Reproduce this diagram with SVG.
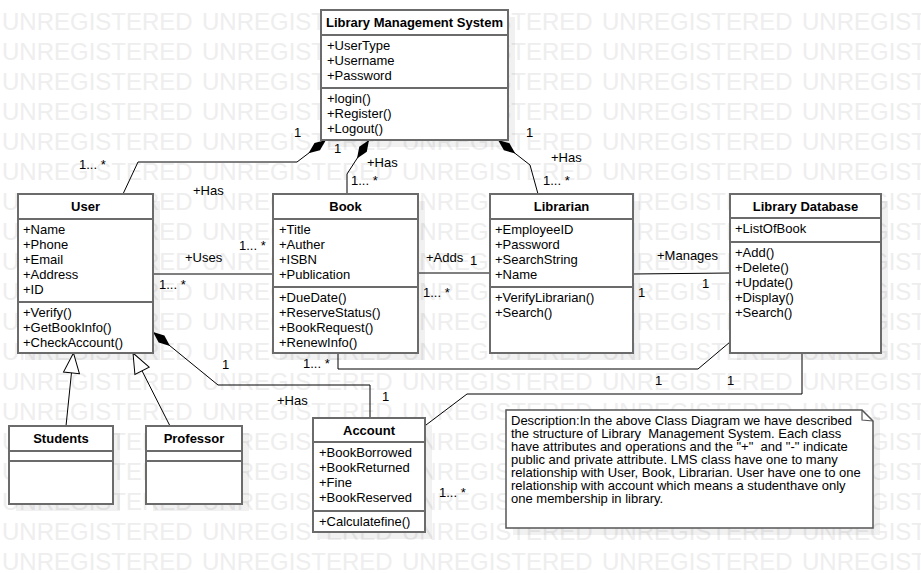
<svg xmlns="http://www.w3.org/2000/svg" width="921" height="573" viewBox="0 0 921 573">
<defs>
<style>
.wm{font-family:"Liberation Sans",Arial,sans-serif;font-size:24px;fill:#eeeeee;word-spacing:2.65px}
.box{fill:#fff;stroke:#6b6b6b;stroke-width:2}
.sep{stroke:#6b6b6b;stroke-width:2}
.sh{fill:#000;fill-opacity:.055}
.t{font-family:"Liberation Sans",Arial,sans-serif;font-size:13px;fill:#000}
.b{font-weight:bold;text-anchor:middle}
.ln{fill:none;stroke:#000;stroke-width:1}
</style>
<marker id="dia" markerUnits="userSpaceOnUse" viewBox="-24 -6 26 12" refX="0" refY="0" markerWidth="26" markerHeight="12" orient="auto"><path d="M0,0 L-11,-4.5 L-22,0 L-11,4.5 Z" fill="#000"/></marker>
<marker id="tri" markerUnits="userSpaceOnUse" viewBox="-22 -10 24 20" refX="0" refY="0" markerWidth="24" markerHeight="20" orient="auto"><path d="M0,0 L-20,-8 L-20,8 Z" fill="#fff" stroke="#000" stroke-width="1"/></marker>
</defs>
<rect width="921" height="573" fill="#fff"/>
<g id="watermark" class="wm">
<text x="2" y="30">UNREGISTERED UNREGISTERED UNREGISTERED UNREGISTERED UNREGIST</text>
<text x="2" y="60">UNREGISTERED UNREGISTERED UNREGISTERED UNREGISTERED UNREGIST</text>
<text x="2" y="90">UNREGISTERED UNREGISTERED UNREGISTERED UNREGISTERED UNREGIST</text>
<text x="2" y="120">UNREGISTERED UNREGISTERED UNREGISTERED UNREGISTERED UNREGIST</text>
<text x="2" y="150">UNREGISTERED UNREGISTERED UNREGISTERED UNREGISTERED UNREGIST</text>
<text x="2" y="180">UNREGISTERED UNREGISTERED UNREGISTERED UNREGISTERED UNREGIST</text>
<text x="2" y="210">UNREGISTERED UNREGISTERED UNREGISTERED UNREGISTERED UNREGIST</text>
<text x="2" y="240">UNREGISTERED UNREGISTERED UNREGISTERED UNREGISTERED UNREGIST</text>
<text x="2" y="270">UNREGISTERED UNREGISTERED UNREGISTERED UNREGISTERED UNREGIST</text>
<text x="2" y="300">UNREGISTERED UNREGISTERED UNREGISTERED UNREGISTERED UNREGIST</text>
<text x="2" y="330">UNREGISTERED UNREGISTERED UNREGISTERED UNREGISTERED UNREGIST</text>
<text x="2" y="360">UNREGISTERED UNREGISTERED UNREGISTERED UNREGISTERED UNREGIST</text>
<text x="2" y="390">UNREGISTERED UNREGISTERED UNREGISTERED UNREGISTERED UNREGIST</text>
<text x="2" y="420">UNREGISTERED UNREGISTERED UNREGISTERED UNREGISTERED UNREGIST</text>
<text x="2" y="450">UNREGISTERED UNREGISTERED UNREGISTERED UNREGISTERED UNREGIST</text>
<text x="2" y="480">UNREGISTERED UNREGISTERED UNREGISTERED UNREGISTERED UNREGIST</text>
<text x="2" y="510">UNREGISTERED UNREGISTERED UNREGISTERED UNREGISTERED UNREGIST</text>
<text x="2" y="540">UNREGISTERED UNREGISTERED UNREGISTERED UNREGISTERED UNREGIST</text>
<text x="2" y="570">UNREGISTERED UNREGISTERED UNREGISTERED UNREGISTERED UNREGIST</text>
</g>
<g id="shadows" class="sh">
<rect x="328" y="17" width="187" height="130"/>
<rect x="25" y="201" width="135" height="159"/>
<rect x="280" y="201" width="145" height="159"/>
<rect x="497" y="201" width="143" height="159"/>
<rect x="737" y="201" width="151" height="159"/>
<rect x="16" y="433" width="104" height="78"/>
<rect x="153" y="433" width="96" height="78"/>
<rect x="320" y="425" width="112" height="114"/>
<rect x="513" y="417" width="367" height="118"/>
</g>
<g id="connectors">
<polyline class="ln" points="123,194 138,162 297,162 326,140" marker-end="url(#dia)"/>
<polyline class="ln" points="347,194 347,174 369,140" marker-end="url(#dia)"/>
<polyline class="ln" points="538,194 530,165 498,140" marker-end="url(#dia)"/>
<line class="ln" x1="153" y1="274" x2="273" y2="274"/>
<line class="ln" x1="418" y1="273" x2="490" y2="273"/>
<line class="ln" x1="633" y1="274" x2="730" y2="273"/>
<polyline class="ln" points="338,353 338,369 698,369 730,342"/>
<polyline class="ln" points="426,425 467,394 802,394 802,353"/>
<polyline class="ln" points="370,418 370,385 218,385 153,332" marker-end="url(#dia)"/>
<line class="ln" x1="66" y1="426" x2="73.5" y2="353" marker-end="url(#tri)"/>
<line class="ln" x1="170" y1="426" x2="133" y2="353" marker-end="url(#tri)"/>
<g class="t">
<text x="294" y="137">1</text>
<text x="79" y="169">1... *</text>
<text x="193" y="195">+Has</text>
<text x="334" y="153">1</text>
<text x="367" y="167">+Has</text>
<text x="351" y="185">1... *</text>
<text x="526" y="137">1</text>
<text x="551" y="162">+Has</text>
<text x="543" y="185">1... *</text>
<text x="185" y="262">+Uses</text>
<text x="239" y="250">1... *</text>
<text x="159" y="289">1... *</text>
<text x="426" y="262">+Adds</text>
<text x="470" y="265">1</text>
<text x="423" y="297">1... *</text>
<text x="657" y="260">+Manages</text>
<text x="638" y="297">1</text>
<text x="702" y="288">1</text>
<text x="303" y="368">1... *</text>
<text x="655" y="385">1</text>
<text x="727" y="385">1</text>
<text x="222" y="369">1</text>
<text x="277" y="405">+Has</text>
<text x="382" y="401">1</text>
<text x="439" y="497">1... *</text>
</g>
</g>
<g id="lms">
<rect class="box" x="321" y="10" width="187" height="130"/>
<line class="sep" x1="321" y1="35" x2="508" y2="35"/>
<line class="sep" x1="321" y1="88" x2="508" y2="88"/>
<text class="t b" x="414.5" y="27">Library Management System</text>
<text class="t" x="327" y="50">+UserType</text>
<text class="t" x="327" y="65">+Username</text>
<text class="t" x="327" y="80">+Password</text>
<text class="t" x="327" y="103">+login()</text>
<text class="t" x="327" y="118">+Register()</text>
<text class="t" x="327" y="133">+Logout()</text>
</g>
<g id="user">
<rect class="box" x="18" y="194" width="135" height="159"/>
<line class="sep" x1="18" y1="219" x2="153" y2="219"/>
<line class="sep" x1="18" y1="302" x2="153" y2="302"/>
<text class="t b" x="85.5" y="211">User</text>
<text class="t" x="23" y="234">+Name</text>
<text class="t" x="23" y="249">+Phone</text>
<text class="t" x="23" y="264">+Email</text>
<text class="t" x="23" y="279">+Address</text>
<text class="t" x="23" y="294">+ID</text>
<text class="t" x="23" y="317">+Verify()</text>
<text class="t" x="23" y="332">+GetBookInfo()</text>
<text class="t" x="23" y="347">+CheckAccount()</text>
</g>
<g id="book">
<rect class="box" x="273" y="194" width="145" height="159"/>
<line class="sep" x1="273" y1="219" x2="418" y2="219"/>
<line class="sep" x1="273" y1="287" x2="418" y2="287"/>
<text class="t b" x="345.5" y="211">Book</text>
<text class="t" x="279" y="234">+Title</text>
<text class="t" x="279" y="249">+Auther</text>
<text class="t" x="279" y="264">+ISBN</text>
<text class="t" x="279" y="279">+Publication</text>
<text class="t" x="279" y="302">+DueDate()</text>
<text class="t" x="279" y="317">+ReserveStatus()</text>
<text class="t" x="279" y="332">+BookRequest()</text>
<text class="t" x="279" y="347">+RenewInfo()</text>
</g>
<g id="librarian">
<rect class="box" x="490" y="194" width="143" height="159"/>
<line class="sep" x1="490" y1="219" x2="633" y2="219"/>
<line class="sep" x1="490" y1="287" x2="633" y2="287"/>
<text class="t b" x="561.5" y="211">Librarian</text>
<text class="t" x="495" y="234">+EmployeeID</text>
<text class="t" x="495" y="249">+Password</text>
<text class="t" x="495" y="264">+SearchString</text>
<text class="t" x="495" y="279">+Name</text>
<text class="t" x="495" y="302">+VerifyLibrarian()</text>
<text class="t" x="495" y="317">+Search()</text>
</g>
<g id="library-database">
<rect class="box" x="730" y="194" width="151" height="159"/>
<line class="sep" x1="730" y1="218" x2="881" y2="218"/>
<line class="sep" x1="730" y1="242" x2="881" y2="242"/>
<text class="t b" x="805.5" y="211">Library Database</text>
<text class="t" x="735" y="233">+ListOfBook</text>
<text class="t" x="735" y="257">+Add()</text>
<text class="t" x="735" y="272">+Delete()</text>
<text class="t" x="735" y="287">+Update()</text>
<text class="t" x="735" y="302">+Display()</text>
<text class="t" x="735" y="317">+Search()</text>
</g>
<g id="students">
<rect class="box" x="9" y="426" width="104" height="78"/>
<line class="sep" x1="9" y1="451" x2="113" y2="451"/>
<line class="sep" x1="9" y1="461" x2="113" y2="461"/>
<text class="t b" x="61" y="443">Students</text>
</g>
<g id="professor">
<rect class="box" x="146" y="426" width="96" height="78"/>
<line class="sep" x1="146" y1="451" x2="242" y2="451"/>
<line class="sep" x1="146" y1="461" x2="242" y2="461"/>
<text class="t b" x="194" y="443">Professor</text>
</g>
<g id="account">
<rect class="box" x="313" y="418" width="112" height="114"/>
<line class="sep" x1="313" y1="442" x2="425" y2="442"/>
<line class="sep" x1="313" y1="511" x2="425" y2="511"/>
<text class="t b" x="369" y="435">Account</text>
<text class="t" x="319" y="457">+BookBorrowed</text>
<text class="t" x="319" y="472">+BookReturned</text>
<text class="t" x="319" y="487">+Fine</text>
<text class="t" x="319" y="502">+BookReserved</text>
<text class="t" x="319" y="526">+Calculatefine()</text>
</g>
<g id="note">
<path d="M506,410 L862,410 L873,421 L873,528 L506,528 Z" fill="#fff" stroke="#555" stroke-width="1.5"/>
<path d="M862,410 L862,420 L873,421" fill="none" stroke="#555" stroke-width="1.2"/>
<text class="t" x="511" y="425">Description:In the above Class Diagram we have described</text>
<text class="t" x="511" y="438" xml:space="preserve">the structure of Library  Management System. Each class</text>
<text class="t" x="511" y="451" xml:space="preserve">have attributes and operations and the "+"  and "-" indicate</text>
<text class="t" x="511" y="464">public and private attribute. LMS class have one to many</text>
<text class="t" x="511" y="477">relationship with User, Book, Librarian. User have one to one</text>
<text class="t" x="511" y="490">relationship with account which means a studenthave only</text>
<text class="t" x="511" y="503">one membership in library.</text>
</g>
</svg>
